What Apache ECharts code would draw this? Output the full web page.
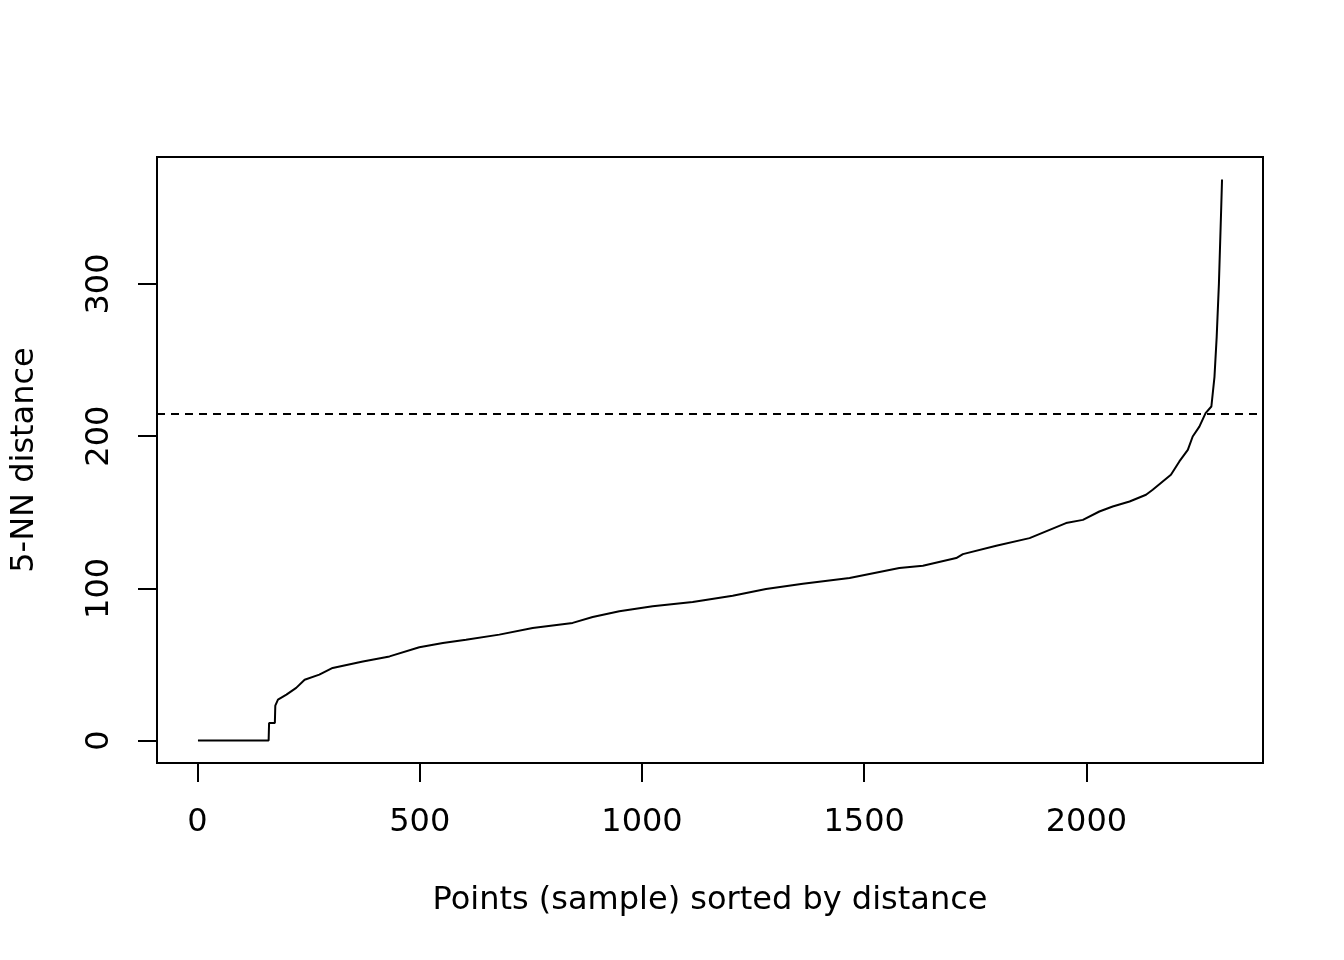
<!DOCTYPE html>
<html>
<head>
<meta charset="utf-8">
<script src="https://cdn.jsdelivr.net/npm/echarts@6/dist/echarts.min.js"></script>
<style>
html,body{margin:0;padding:0;background:#fff;}
#chart{width:1344px;height:960px;}
</style>
</head>
<body>
<div id="chart"></div>
<script>
// Point index (sorted) and 5-NN distance
const pointIndex = [1, 160, 161, 174, 175, 181, 200, 222, 241, 274, 304, 372, 432, 499, 552, 604, 679, 754, 844, 889, 949, 1024, 1114, 1204, 1279, 1362, 1467, 1579, 1632, 1707, 1722, 1797, 1872, 1954, 1992, 2029, 2059, 2097, 2134, 2149, 2190, 2209, 2228, 2239, 2254, 2268, 2281, 2288, 2293, 2298, 2303, 2305];
const knnDistance = [0, 0, 11.6, 11.6, 23, 26.9, 30.2, 34.6, 40, 43.3, 47.7, 52, 55.3, 61.3, 64.1, 66.3, 69.6, 74, 77.3, 81.2, 84.9, 88.2, 91.0, 95.2, 99.6, 103.1, 106.8, 113.4, 114.9, 119.9, 122.5, 128, 133, 142.9, 145, 150.5, 153.8, 157.1, 161.5, 164.8, 174.6, 183.4, 191.0, 199.8, 206.3, 215.1, 219.5, 239, 265.4, 300.4, 348.6, 368.7];
const epsThreshold = 215;
const xTicks = [0, 500, 1000, 1500, 2000];
const yTicks = [0, 100, 200, 300];
const xTitle = 'Points (sample) sorted by distance';
const yTitle = '5-NN distance';

const font = 'DejaVu Sans';
const xMin = 1 - 0.04 * (pointIndex[pointIndex.length - 1] - 1);
const xMax = pointIndex[pointIndex.length - 1] + 0.04 * (pointIndex[pointIndex.length - 1] - 1);
const yRange = Math.max(...knnDistance) - Math.min(...knnDistance);
const yMin = Math.min(...knnDistance) - 0.04 * yRange;
const yMax = Math.max(...knnDistance) + 0.04 * yRange;

const chart = echarts.init(document.getElementById('chart'), null, {renderer: 'canvas'});
chart.setOption({
  animation: false,
  backgroundColor: '#ffffff',
  grid: {left: 157, top: 157, right: 81, bottom: 197, show: true, borderColor: '#000', borderWidth: 2, backgroundColor: 'transparent'},
  xAxis: {
    type: 'value', min: xMin, max: xMax, position: 'bottom',
    name: xTitle, nameLocation: 'middle', nameGap: 122,
    nameTextStyle: {fontFamily: font, fontSize: 32, color: '#000'},
    axisLine: {show: false, onZero: false},
    splitLine: {show: false},
    axisTick: {show: true, inside: false, length: 19, lineStyle: {color: '#000', width: 2}, customValues: xTicks},
    axisLabel: {fontFamily: font, fontSize: 32, color: '#000', margin: 44, customValues: xTicks, formatter: v => String(v)}
  },
  yAxis: {
    type: 'value', min: yMin, max: yMax, position: 'left',
    name: yTitle, nameLocation: 'middle', nameGap: 116, nameRotate: 90,
    nameTextStyle: {fontFamily: font, fontSize: 32, color: '#000'},
    axisLine: {show: false, onZero: false},
    splitLine: {show: false},
    axisTick: {show: true, inside: false, length: 19, lineStyle: {color: '#000', width: 2}, customValues: yTicks},
    axisLabel: {fontFamily: font, fontSize: 32, color: '#000', margin: 41, rotate: 90, customValues: yTicks, formatter: v => String(v)}
  },
  series: [{
    type: 'line',
    data: pointIndex.map((x, i) => [x, knnDistance[i]]),
    symbol: 'none',
    lineStyle: {color: '#000', width: 2},
    markLine: {
      silent: true,
      symbol: 'none',
      label: {show: false},
      lineStyle: {color: '#000', width: 2, type: [8, 6]},
      data: [{yAxis: epsThreshold}]
    }
  }]
});
</script>
</body>
</html>
